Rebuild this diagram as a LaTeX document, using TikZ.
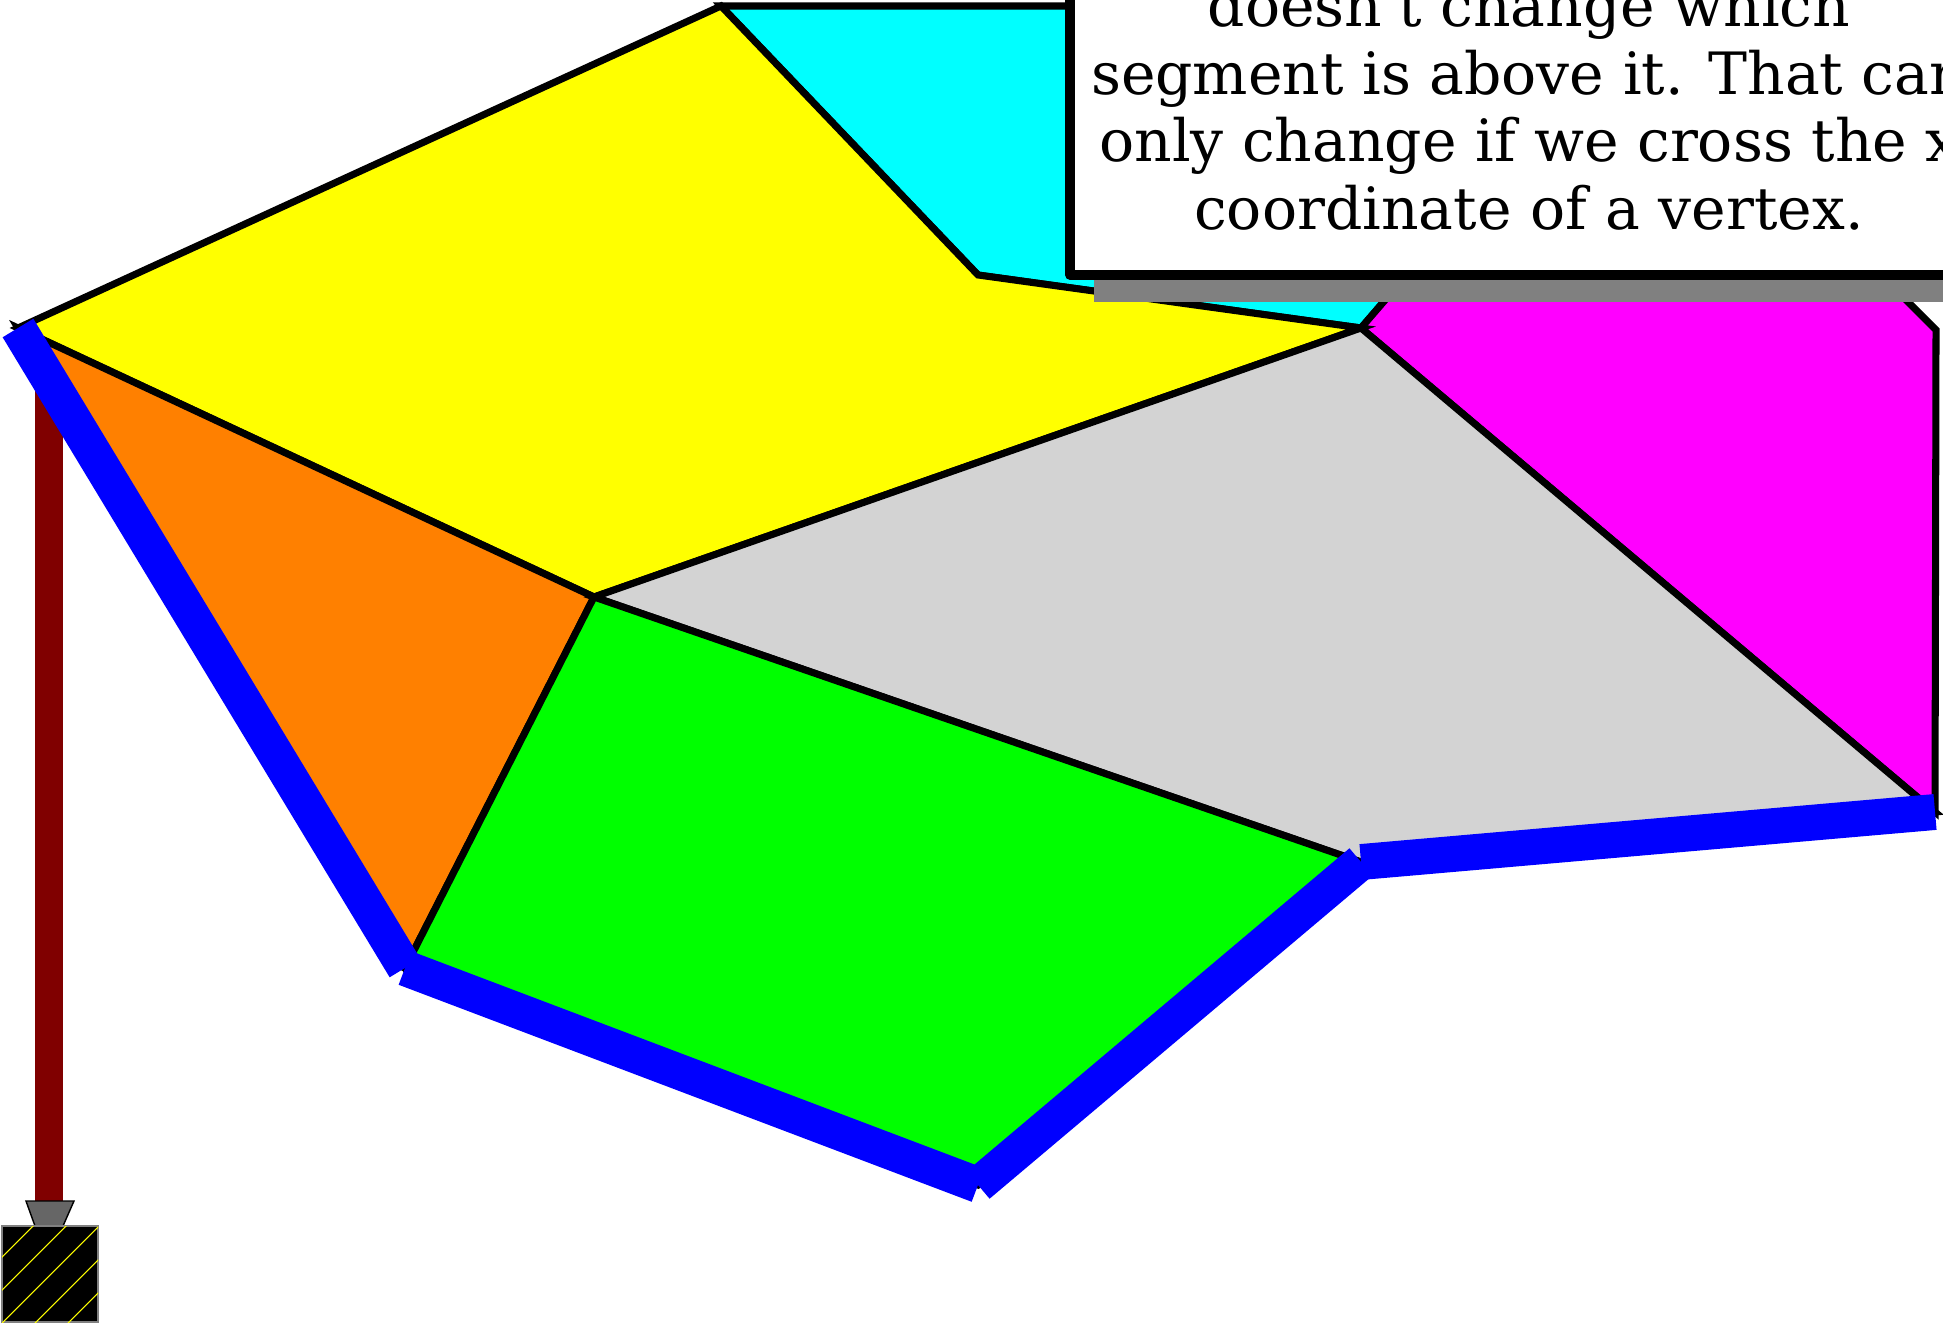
\documentclass[tikz,border=0pt]{standalone}
\usepackage{fontspec}
\newfontfamily\notefont{DejaVu Serif}
\definecolor{rodred}{RGB}{128,0,0}
\definecolor{faceorange}{RGB}{255,128,0}
\definecolor{facegray}{RGB}{211,211,211}
\definecolor{facecyan}{RGB}{0,255,255}
\definecolor{facemagenta}{RGB}{255,0,255}
\definecolor{faceyellow}{RGB}{255,255,0}
\definecolor{facegreen}{RGB}{0,255,0}
\definecolor{chainblue}{RGB}{0,0,255}
\definecolor{hatchyellow}{RGB}{255,255,0}
\definecolor{shadowgray}{RGB}{128,128,128}
\definecolor{capgray}{RGB}{102,102,102}
\tikzset{
  region/.style={draw=black, line width=2pt},
  bluechain/.style={draw=chainblue, line width=10.2pt},
}

\begin{document}
\begin{tikzpicture}[x=0.01cm, y=-0.01cm]
    \useasboundingbox (0,0) rectangle (1943,1328);
    \clip (0,0) rectangle (1943,1328);

    % Vertices of the subdivision
    \coordinate (A) at (18,328);
    \coordinate (B) at (721,6);
    \coordinate (C) at (978,275);
    \coordinate (D) at (1361,328);
    \coordinate (E) at (594,597);
    \coordinate (F) at (405,968);
    \coordinate (G) at (1361,862);
    \coordinate (H) at (978,1185);
    \coordinate (I) at (1935,812);
    \coordinate (J) at (1936,330);
    \coordinate (P1) at (1480,190);
    \coordinate (P2) at (1806,200);

    % Weight hanging on a rod
    \draw[rodred, line width=8.2pt] (49,330) -- (49,1201);
    \filldraw[fill=capgray, draw=black, line width=0.4pt] (26,1201) -- (74,1201) -- (63,1226) -- (35,1226) -- cycle;
    \filldraw[fill=black, draw=gray, line width=0.4pt] (2,1226) rectangle (98,1322);
    \begin{scope}
        \clip (2,1226) rectangle (98,1322);
        \foreach \c in {1226,1259,...,1424} {
            \draw[hatchyellow, line width=0.3pt] (\c-1400,1400) -- (\c-1100,1100);
        }
    \end{scope}

    % Faces
    \filldraw[region, fill=facecyan] (B) -- (1300,6) -- (P1) -- (D) -- (C) -- cycle;
    \filldraw[region, fill=facemagenta] (D) -- (P1) -- (P2) -- (J) -- (I) -- cycle;
    \filldraw[region, fill=faceyellow] (A) -- (B) -- (C) -- (D) -- (E) -- cycle;
    \filldraw[region, fill=faceorange] (A) -- (E) -- (F) -- cycle;
    \filldraw[region, fill=facegray] (E) -- (D) -- (I) -- (G) -- cycle;
    \filldraw[region, fill=facegreen] (E) -- (G) -- (H) -- (F) -- cycle;

    % Lower chain
    \foreach \s/\t in {A/F, F/H, H/G, G/I} {
        \draw[bluechain] (\s) -- (\t);
    }

    % Note box with shadow
    \fill[shadowgray] (1094,-50) rectangle (2020,302);
    \filldraw[fill=white, draw=black, line width=2.6pt, line join=round] (1070,-50) rectangle (1995,275);
    \node[font=\notefont\fontsize{16.6}{19.2}\selectfont, align=center, anchor=south, inner sep=0pt] (note) at (1529,231)
        {doesn't change which\\segment is above it. That can\\only change if we cross the x\\coordinate of a vertex.};
\end{tikzpicture}
\end{document}
